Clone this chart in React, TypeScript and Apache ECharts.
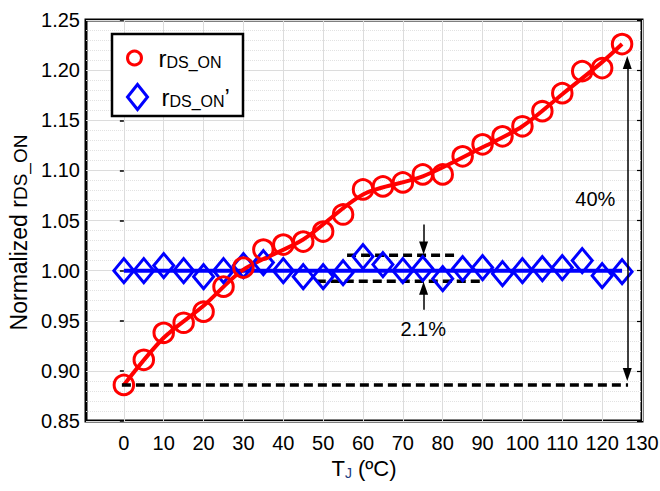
import React, { useEffect, useRef } from "react";
import * as echarts from "echarts";

// ---- data ----
const temps = [0, 5, 10, 15, 20, 25, 30, 35, 40, 45, 50, 55, 60, 65, 70, 75, 80, 85, 90, 95, 100, 105, 110, 115, 120, 125];
const rdsOn = [0.886, 0.911, 0.938, 0.948, 0.959, 0.984, 1.003, 1.021, 1.026, 1.029, 1.039, 1.056, 1.081, 1.084, 1.088, 1.096, 1.096, 1.114, 1.126, 1.134, 1.144, 1.159, 1.177, 1.199, 1.202, 1.226];
const rdsOnPrime = [1.0, 1.0, 1.005, 1.0, 0.994, 1.0, 1.005, 1.008, 1.0, 0.994, 0.994, 0.998, 1.014, 1.006, 1.0, 1.002, 0.992, 1.002, 1.003, 0.997, 1.0, 1.002, 1.003, 1.01, 0.995, 0.999];
const rdsOnFitT = [0, 10, 20, 30, 45, 60, 75, 90, 100, 110, 120, 125];
const rdsOnFit = [0.886, 0.933, 0.965, 1.001, 1.031, 1.076, 1.094, 1.123, 1.144, 1.176, 1.208, 1.226];
const primeFitT = [0, 125];
const primeFit = [1.0, 1.0];
const xTickValues = [0, 10, 20, 30, 40, 50, 60, 70, 80, 90, 100, 110, 120, 130];
const xRange = [-9.5, 130];
const yRange = [0.85, 1.25];
const yStep = 0.05;

// annotations
const refLineT = [-0.5, 126.5];
const refLineY = 0.886;
const bandUpperT = [56, 83.6];
const bandUpperY = 1.0153;
const bandLowerT = [48.4, 89.4];
const bandLowerY = 0.9895;
const spanArrowT = 126.3;
const spanArrowY = [1.2075, 0.8965];
const bandArrowT = 75.2;
const bandArrowDownY = [1.046, 1.0225];
const bandArrowUpY = [0.961, 0.9825];
const noteLabels = ["40%", "2.1%"];
const noteT = [118.3, 75.1];
const noteY = [1.071, 0.942];

const FONT = "'Liberation Sans', Arial, sans-serif";
const RED = "#ff0000";
const BLUE = "#0000ff";

const pairs = (xs: number[], ys: number[]) => xs.map((x, i) => [x, ys[i]]);

export default function App() {
  const ref = useRef<HTMLDivElement>(null);
  useEffect(() => {
    if (!ref.current) return;
    const chart = echarts.init(ref.current, undefined, { renderer: "svg" });
    const dashStyle = { color: "#000", width: 3.5, type: [9, 5] as any };
    const richLegend = {
      sp: { width: 9, fontSize: 10 },
      r: { fontSize: 24, fontFamily: FONT, color: "#000", verticalAlign: "bottom" },
      s: { fontSize: 16, fontFamily: FONT, color: "#000", verticalAlign: "bottom" },
    };
    const option: any = {
      animation: false,
      backgroundColor: "#fff",
      textStyle: { fontFamily: FONT },
      grid: {
        left: 86,
        right: 18,
        top: 20,
        bottom: 70,
        containLabel: false,
        outerBoundsMode: "none",
        show: true,
        borderColor: "#000",
        borderWidth: 3,
        backgroundColor: "transparent",
      },
      xAxis: {
        type: "value",
        min: xRange[0],
        max: xRange[1],
        name: "{a|T}{b|J}{a| (ºC)}",
        nameLocation: "middle",
        nameGap: 33,
        nameTextStyle: {
          rich: {
            a: { fontSize: 22, fontFamily: FONT, color: "#000", verticalAlign: "bottom" },
            b: { fontSize: 14, fontFamily: FONT, color: "#203a80", verticalAlign: "bottom" },
          },
        },
        axisLine: { show: false },
        axisTick: { show: false, customValues: xTickValues },
        axisLabel: {
          customValues: xTickValues,
          fontSize: 20,
          fontFamily: FONT,
          color: "#000",
          margin: 12,
          showMinLabel: true,
          showMaxLabel: true,
        },
        splitLine: { show: true, lineStyle: { color: "#dcdcdc", width: 1 } },
      },
      yAxis: [
        {
          type: "value",
          min: yRange[0],
          max: yRange[1],
          interval: yStep,
          name: "{a|Normalized r}{b|DS_ON}",
          nameLocation: "middle",
          nameGap: 50,
          nameTextStyle: {
            padding: [0, 24, 0, 0],
            rich: {
              a: { fontSize: 23, fontFamily: FONT, color: "#000", verticalAlign: "bottom" },
              b: { fontSize: 19, fontFamily: FONT, color: "#000", verticalAlign: "bottom" },
            },
          },
          axisLine: { show: false },
          axisTick: { show: true, inside: false, length: 4, lineStyle: { color: "#000", width: 1.5 } },
          axisLabel: {
            fontSize: 20,
            fontFamily: FONT,
            color: "#000",
            margin: 6,
            formatter: (v: number) => v.toFixed(2),
          },
          splitLine: { show: true, lineStyle: { color: "#dcdcdc", width: 1 } },
          minorTick: { show: false, splitNumber: 5 },
          minorSplitLine: { show: true, lineStyle: { color: "#e2e2e2", width: 1, type: "dotted" } },
        },
        {
          type: "value",
          position: "right",
          min: yRange[0],
          max: yRange[1],
          interval: yStep,
          axisLine: { show: false },
          axisTick: { show: true, inside: true, length: 5, lineStyle: { color: "#000", width: 1.2 } },
          axisLabel: { show: false },
          splitLine: { show: false },
        },
      ],
      legend: [
        {
          left: 126,
          top: 46,
          padding: 0,
          itemWidth: 20,
          itemHeight: 14,
          selectedMode: false,
          data: [
            { name: "rDS_ON", icon: "circle", itemStyle: { color: "#fff", borderColor: RED, borderWidth: 3 } },
          ],
          formatter: () => "{sp| }{r|r}{s|DS_ON}",
          textStyle: { rich: richLegend },
        },
        {
          left: 126,
          top: 83,
          padding: 0,
          itemWidth: 20,
          itemHeight: 25,
          selectedMode: false,
          data: [
            { name: "rDS_ON'", icon: "diamond", itemStyle: { color: "#fff", borderColor: BLUE, borderWidth: 3 } },
          ],
          formatter: () => "{sp| }{r|r}{s|DS_ON}{r|’}",
          textStyle: { rich: richLegend },
        },
      ],
      graphic: [
        {
          type: "rect",
          z: 3,
          shape: { x: 112, y: 34, width: 131, height: 82 },
          style: { fill: "#fff", stroke: "#000", lineWidth: 2.5 },
        },
      ],
      series: [
        {
          name: "rDS_ON' fit",
          type: "line",
          data: pairs(primeFitT, primeFit),
          symbol: "none",
          lineStyle: { color: BLUE, width: 4 },
          silent: true,
        },
        {
          name: "rDS_ON'",
          type: "line",
          data: pairs(temps, rdsOnPrime),
          symbol: "diamond",
          symbolSize: [20, 24],
          lineStyle: { width: 0, opacity: 0 },
          itemStyle: { color: "rgba(0,0,0,0)", borderColor: BLUE, borderWidth: 3 },
          silent: true,
        },
        {
          name: "rDS_ON fit",
          type: "line",
          data: pairs(rdsOnFitT, rdsOnFit),
          symbol: "none",
          smooth: 0.3,
          lineStyle: { color: RED, width: 4 },
          silent: true,
        },
        {
          name: "rDS_ON",
          type: "line",
          data: pairs(temps, rdsOn),
          symbol: "circle",
          symbolSize: 19.5,
          lineStyle: { width: 0, opacity: 0 },
          itemStyle: { color: "rgba(0,0,0,0)", borderColor: RED, borderWidth: 3 },
          silent: true,
        },
        {
          name: "ref",
          type: "line",
          data: pairs(refLineT, [refLineY, refLineY]),
          symbol: "none",
          lineStyle: dashStyle,
          silent: true,
          markLine: {
            silent: true,
            symbol: ["triangle", "triangle"],
            symbolSize: [9, 13],
            label: { show: false },
            lineStyle: { color: "#000", width: 1.5, type: "solid" },
            data: [[{ coord: [spanArrowT, spanArrowY[0]] }, { coord: [spanArrowT, spanArrowY[1]] }]],
          },
        },
        {
          name: "bandUpper",
          type: "line",
          data: pairs(bandUpperT, [bandUpperY, bandUpperY]),
          symbol: "none",
          lineStyle: dashStyle,
          silent: true,
          markLine: {
            silent: true,
            symbol: ["none", "triangle"],
            symbolSize: [9, 13],
            label: { show: false },
            lineStyle: { color: "#000", width: 1.5, type: "solid" },
            data: [
              [{ coord: [bandArrowT, bandArrowDownY[0]] }, { coord: [bandArrowT, bandArrowDownY[1]] }],
              [{ coord: [bandArrowT, bandArrowUpY[0]] }, { coord: [bandArrowT, bandArrowUpY[1]] }],
            ],
          },
        },
        {
          name: "bandLower",
          type: "line",
          data: pairs(bandLowerT, [bandLowerY, bandLowerY]),
          symbol: "none",
          lineStyle: dashStyle,
          silent: true,
        },
        {
          name: "notes",
          type: "scatter",
          symbolSize: 1,
          itemStyle: { color: "rgba(0,0,0,0)" },
          silent: true,
          data: noteLabels.map((n, i) => ({ name: n, value: [noteT[i], noteY[i]] })),
          label: {
            show: true,
            position: "inside",
            formatter: "{b}",
            fontSize: 20,
            fontFamily: FONT,
            color: "#000",
            opacity: 1,
          },
        },
      ],
    };
    chart.setOption(option);
    return () => chart.dispose();
  }, []);
  return (
    <div
      ref={ref}
      style={{ position: "fixed", left: 0, top: 0, width: 660, height: 491, background: "#fff" }}
    />
  );
}
